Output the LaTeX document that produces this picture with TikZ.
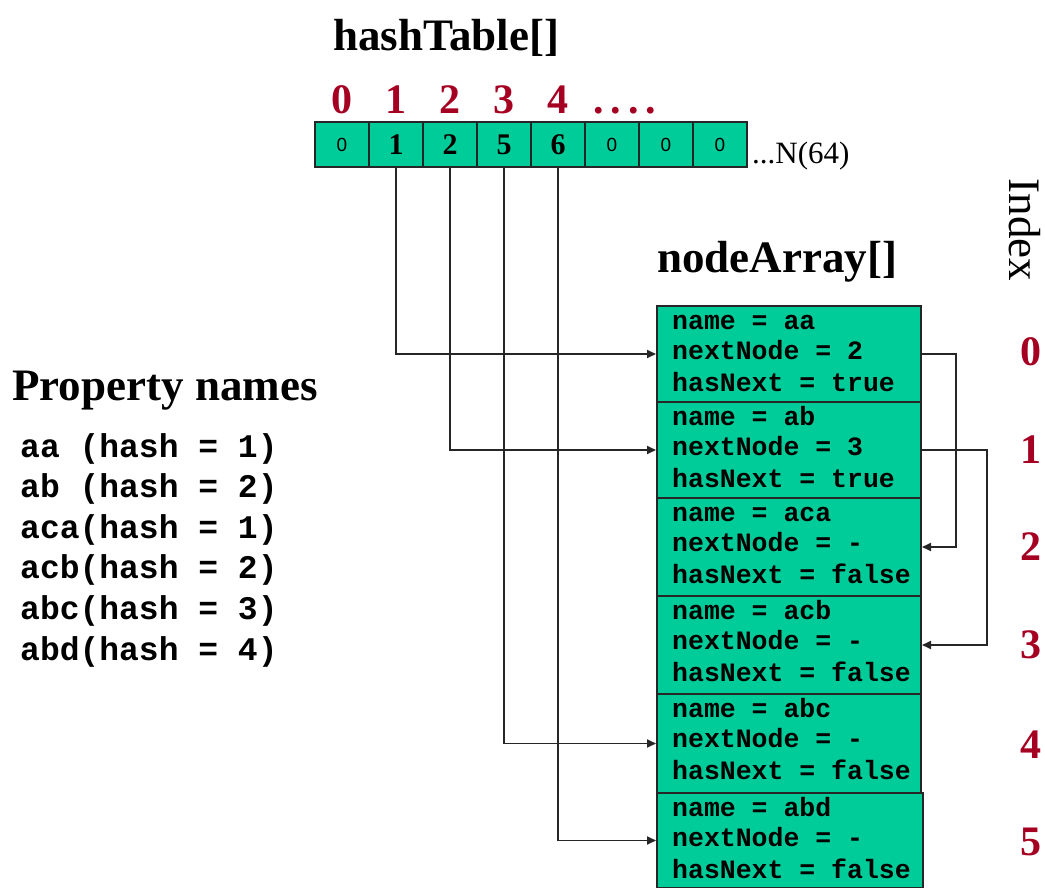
\documentclass[tikz,border=0pt]{standalone}
\usepackage{fontspec}
\setmainfont{Liberation Serif}
\setmonofont{Liberation Mono}
\newfontfamily\cellsans{Liberation Sans}
\usetikzlibrary{arrows.meta}
\definecolor{cellgreen}{RGB}{0,204,153}
\definecolor{idxred}{RGB}{165,0,33}
\begin{document}
\begin{tikzpicture}[x=1pt,y=-1pt,
  cell/.style={draw=black!85, line width=2pt, fill=cellgreen, inner sep=0pt},
  hcell/.style={cell, minimum width=54pt, minimum height=45pt},
  rowbox/.style={cell, anchor=north west, minimum width=264pt},
  link/.style={draw=black!85, line width=1.8pt, -{Triangle[length=9pt,width=8pt]}},
  heading/.style={font=\fontsize{45}{50}\selectfont\bfseries, anchor=base west, inner sep=0pt},
  code/.style={font=\fontsize{26.5}{30}\selectfont\ttfamily\bfseries, anchor=base west, inner sep=0pt},
  proplist/.style={font=\fontsize{33}{36}\selectfont\ttfamily\bfseries, anchor=base west, inner sep=0pt},
  idx/.style={text=idxred, font=\fontsize{42}{44}\selectfont\bfseries, inner sep=0pt},
  zeroval/.style={font=\fontsize{19}{22}\selectfont\cellsans},
  hashval/.style={font=\fontsize{30}{32}\selectfont\bfseries}
]
\useasboundingbox (0,0) rectangle (1045,888);

% titles
\node[heading] (htitle) at (333,51) {hashTable[]};
\node[heading] (ntitle) at (657,272) {nodeArray[]};
\node[heading] (ptitle) at (12,400) {Property names};
\node[rotate=-90, font=\fontsize{45}{50}\selectfont, inner sep=0pt] (indexlbl) at (1025,230) {Index};

% hash table indices
\node[idx, anchor=base] (t0) at (342,114) {0};
\node[idx, anchor=base] (t1) at (396,114) {1};
\node[idx, anchor=base] (t2) at (450,114) {2};
\node[idx, anchor=base] (t3) at (504,114) {3};
\node[idx, anchor=base] (t4) at (558,114) {4};
\node[idx, anchor=base west] (tdots) at (593,114) {.\,.\,.\,.};

% hash table cells
\node[hcell, zeroval] (h0) at (342,144.5) {0};
\node[hcell, hashval] (h1) at (396,144.5) {1};
\node[hcell, hashval] (h2) at (450,144.5) {2};
\node[hcell, hashval] (h3) at (504,144.5) {5};
\node[hcell, hashval] (h4) at (558,144.5) {6};
\node[hcell, zeroval] (h5) at (612,144.5) {0};
\node[hcell, zeroval] (h6) at (666,144.5) {0};
\node[hcell, zeroval] (h7) at (720,144.5) {0};
\node[anchor=base west, inner sep=0pt, font=\fontsize{31}{34}\selectfont] (hsize) at (752,164) {...N(64)};

% node array rows
\node[rowbox, minimum height=96pt] (r0) at (656,305) {};
\node[rowbox, minimum height=96pt] (r1) at (656,401) {};
\node[rowbox, minimum height=98pt] (r2) at (656,497) {};
\node[rowbox, minimum height=98pt] (r3) at (656,595) {};
\node[rowbox, minimum height=99pt] (r4) at (656,693) {};
\node[rowbox, minimum height=95pt, minimum width=266pt] (r5) at (656,792) {};

% row contents
\foreach \r/\top/\nm/\nx/\hn in {0/305/aa/2/true, 1/401/ab/3/true, 2/497/aca/-/false,
                                 3/595/acb/-/false, 4/693/abc/-/false, 5/792/abd/-/false}{
  \node[code] (n\r a) at (672,\top+24) {name = \nm};
  \node[code] (n\r b) at (672,\top+54) {nextNode = \nx};
  \node[code] (n\r c) at (672,\top+86) {hasNext = \hn};
}

% row indices
\node[idx] (i0) at (1031,352) {0};
\node[idx] (i1) at (1031,450) {1};
\node[idx] (i2) at (1031,547) {2};
\node[idx] (i3) at (1031,645) {3};
\node[idx] (i4) at (1031,745) {4};
\node[idx] (i5) at (1031,842) {5};

% property names
\node[proplist] (p0) at (20,457) {aa (hash = 1)};
\node[proplist] (p1) at (20,497.6) {ab (hash = 2)};
\node[proplist] (p2) at (20,538.2) {aca(hash = 1)};
\node[proplist] (p3) at (20,578.8) {acb(hash = 2)};
\node[proplist] (p4) at (20,619.4) {abc(hash = 3)};
\node[proplist] (p5) at (20,660) {abd(hash = 4)};

% links from the hash table into the array
\draw[link] (h1.south) |- (r0.west);
\draw[link] (h2.south) |- (r1.west);
\draw[link] (h3.south) |- (r4.west);
\draw[link] (h4.south) |- (r5.west);

% chained entries
\draw[link] (r0.east) -- ++(34,0) |- (r2.east);
\draw[link] (r1.east) -- ++(65,0) |- (r3.east);
\end{tikzpicture}
\end{document}
